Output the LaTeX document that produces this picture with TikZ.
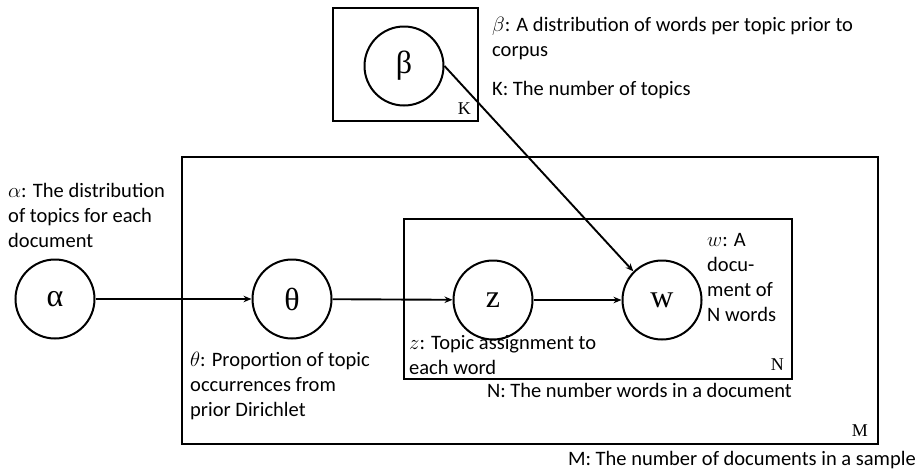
\documentclass[tikz,border=0pt]{standalone}
\usepackage{fontspec}
\setmainfont{Carlito}
\newfontfamily\nodefont{Liberation Serif}
\usetikzlibrary{arrows.meta}
\begin{document}
\begin{tikzpicture}[x=1pt,y=-1pt,
 var/.style={circle,draw,line width=2pt,minimum size=79pt,inner sep=0pt,font=\nodefont\fontsize{32}{34}\selectfont},
 plate/.style={draw,line width=2.2pt},
 platelbl/.style={inner sep=0pt,anchor=base east,font=\nodefont\fontsize{18}{22}\selectfont},
 lbl/.style={inner sep=0pt,anchor=base west,align=left,font=\fontsize{20.5}{25}\selectfont},
 conn/.style={line width=1.9pt,-{Stealth[length=8pt,width=6.5pt]}}]
\useasboundingbox (0,0) rectangle (917,474);
% plates
\draw[plate] (333,8) rectangle (478,121);
\draw[plate] (182,157) rectangle (878,444);
\draw[plate] (404,219) rectangle (792,379);
\node[platelbl] (K) at (471,114) {K};
\node[platelbl] (N) at (784,370) {N};
\node[platelbl] (M) at (868,436) {M};
% variables
\node[var] (beta) at (404,66) {β};
\node[var] (alpha) at (55,299) {α};
\node[var] (theta) at (292,299) {θ};
\node[var] (z) at (493,300) {z};
\node[var] (w) at (662,300) {w};
% connectors
\draw[conn] (alpha) -- (theta);
\draw[conn] (theta) -- (z);
\draw[conn] (z) -- (w);
\draw[conn] (beta.east) -- (w.north west);
% labels (base anchor = baseline of the last line)
\node[lbl] (tbeta) at (492,56) {\(\beta\): A distribution of words per topic prior to\\corpus};
\node[lbl] (tK) at (492,95) {K: The number of topics};
\node[lbl] (talpha) at (8,247) {\(\alpha\): The distribution\\of topics for each\\document};
\node[lbl] (ttheta) at (190,416) {\(\theta\): Proportion of topic\\occurrences from\\prior Dirichlet};
\node[lbl] (tz) at (409,374) {\(z\): Topic assignment to\\each word};
\node[lbl] (tw) at (707,321) {\(w\): A\\docu-\\ment of\\N words};
\node[lbl,anchor=base east] (tN) at (792,397) {N: The number words in a document};
\node[lbl,anchor=base east] (tM) at (916,465) {M: The number of documents in a sample};
\end{tikzpicture}
\end{document}
